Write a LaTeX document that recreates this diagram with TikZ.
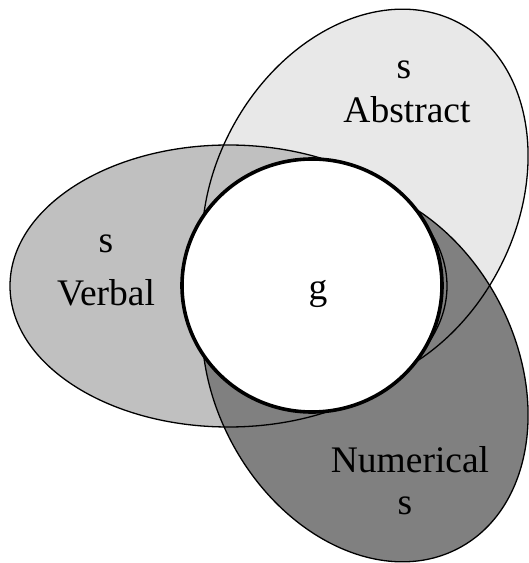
\documentclass[tikz,border=0pt]{standalone}
\usepackage{fontspec}
\setmainfont{Liberation Serif}
\definecolor{abscol}{HTML}{E8E8E8}
\definecolor{vercol}{HTML}{C0C0C0}
\definecolor{numcol}{HTML}{808080}
\begin{document}
\begin{tikzpicture}[x=1pt,y=1pt,
  outline/.style={draw=black,line width=1.3pt},
  gcircle/.style={draw=black,fill=white,line width=3.6pt},
  lbl/.style={inner sep=0pt,anchor=base,font=\fontsize{37.5}{40}\selectfont}]
\useasboundingbox (0,0) rectangle (529,563);
% fills
\fill[abscol,rotate around={62:(365,363.5)}] (365,363.5) ellipse [x radius=200pt,y radius=151pt];
\fill[vercol] (228.5,277) ellipse [x radius=218.5pt,y radius=141pt];
\fill[numcol,rotate around={-62:(365,191.5)}] (365,191.5) ellipse [x radius=200pt,y radius=151pt];
% outlines
\draw[outline,rotate around={62:(365,363.5)}] (365,363.5) ellipse [x radius=200pt,y radius=151pt];
\draw[outline] (228.5,277) ellipse [x radius=218.5pt,y radius=141pt];
\draw[outline,rotate around={-62:(365,191.5)}] (365,191.5) ellipse [x radius=200pt,y radius=151pt];
% g
\draw[gcircle] (312,277.5) ellipse [x radius=130pt,y radius=126.5pt];
% labels
\node[lbl] (abss) at (404,484) {s};
\node[lbl] (abst) at (407,440) {Abstract};
\node[lbl] (vers) at (106,310) {s};
\node[lbl] (verb) at (106,257) {Verbal};
\node[lbl] (g) at (318,263) {g};
\node[lbl] (numt) at (410,90) {Numerical};
\node[lbl] (nums) at (405,48) {s};
\end{tikzpicture}
\end{document}
